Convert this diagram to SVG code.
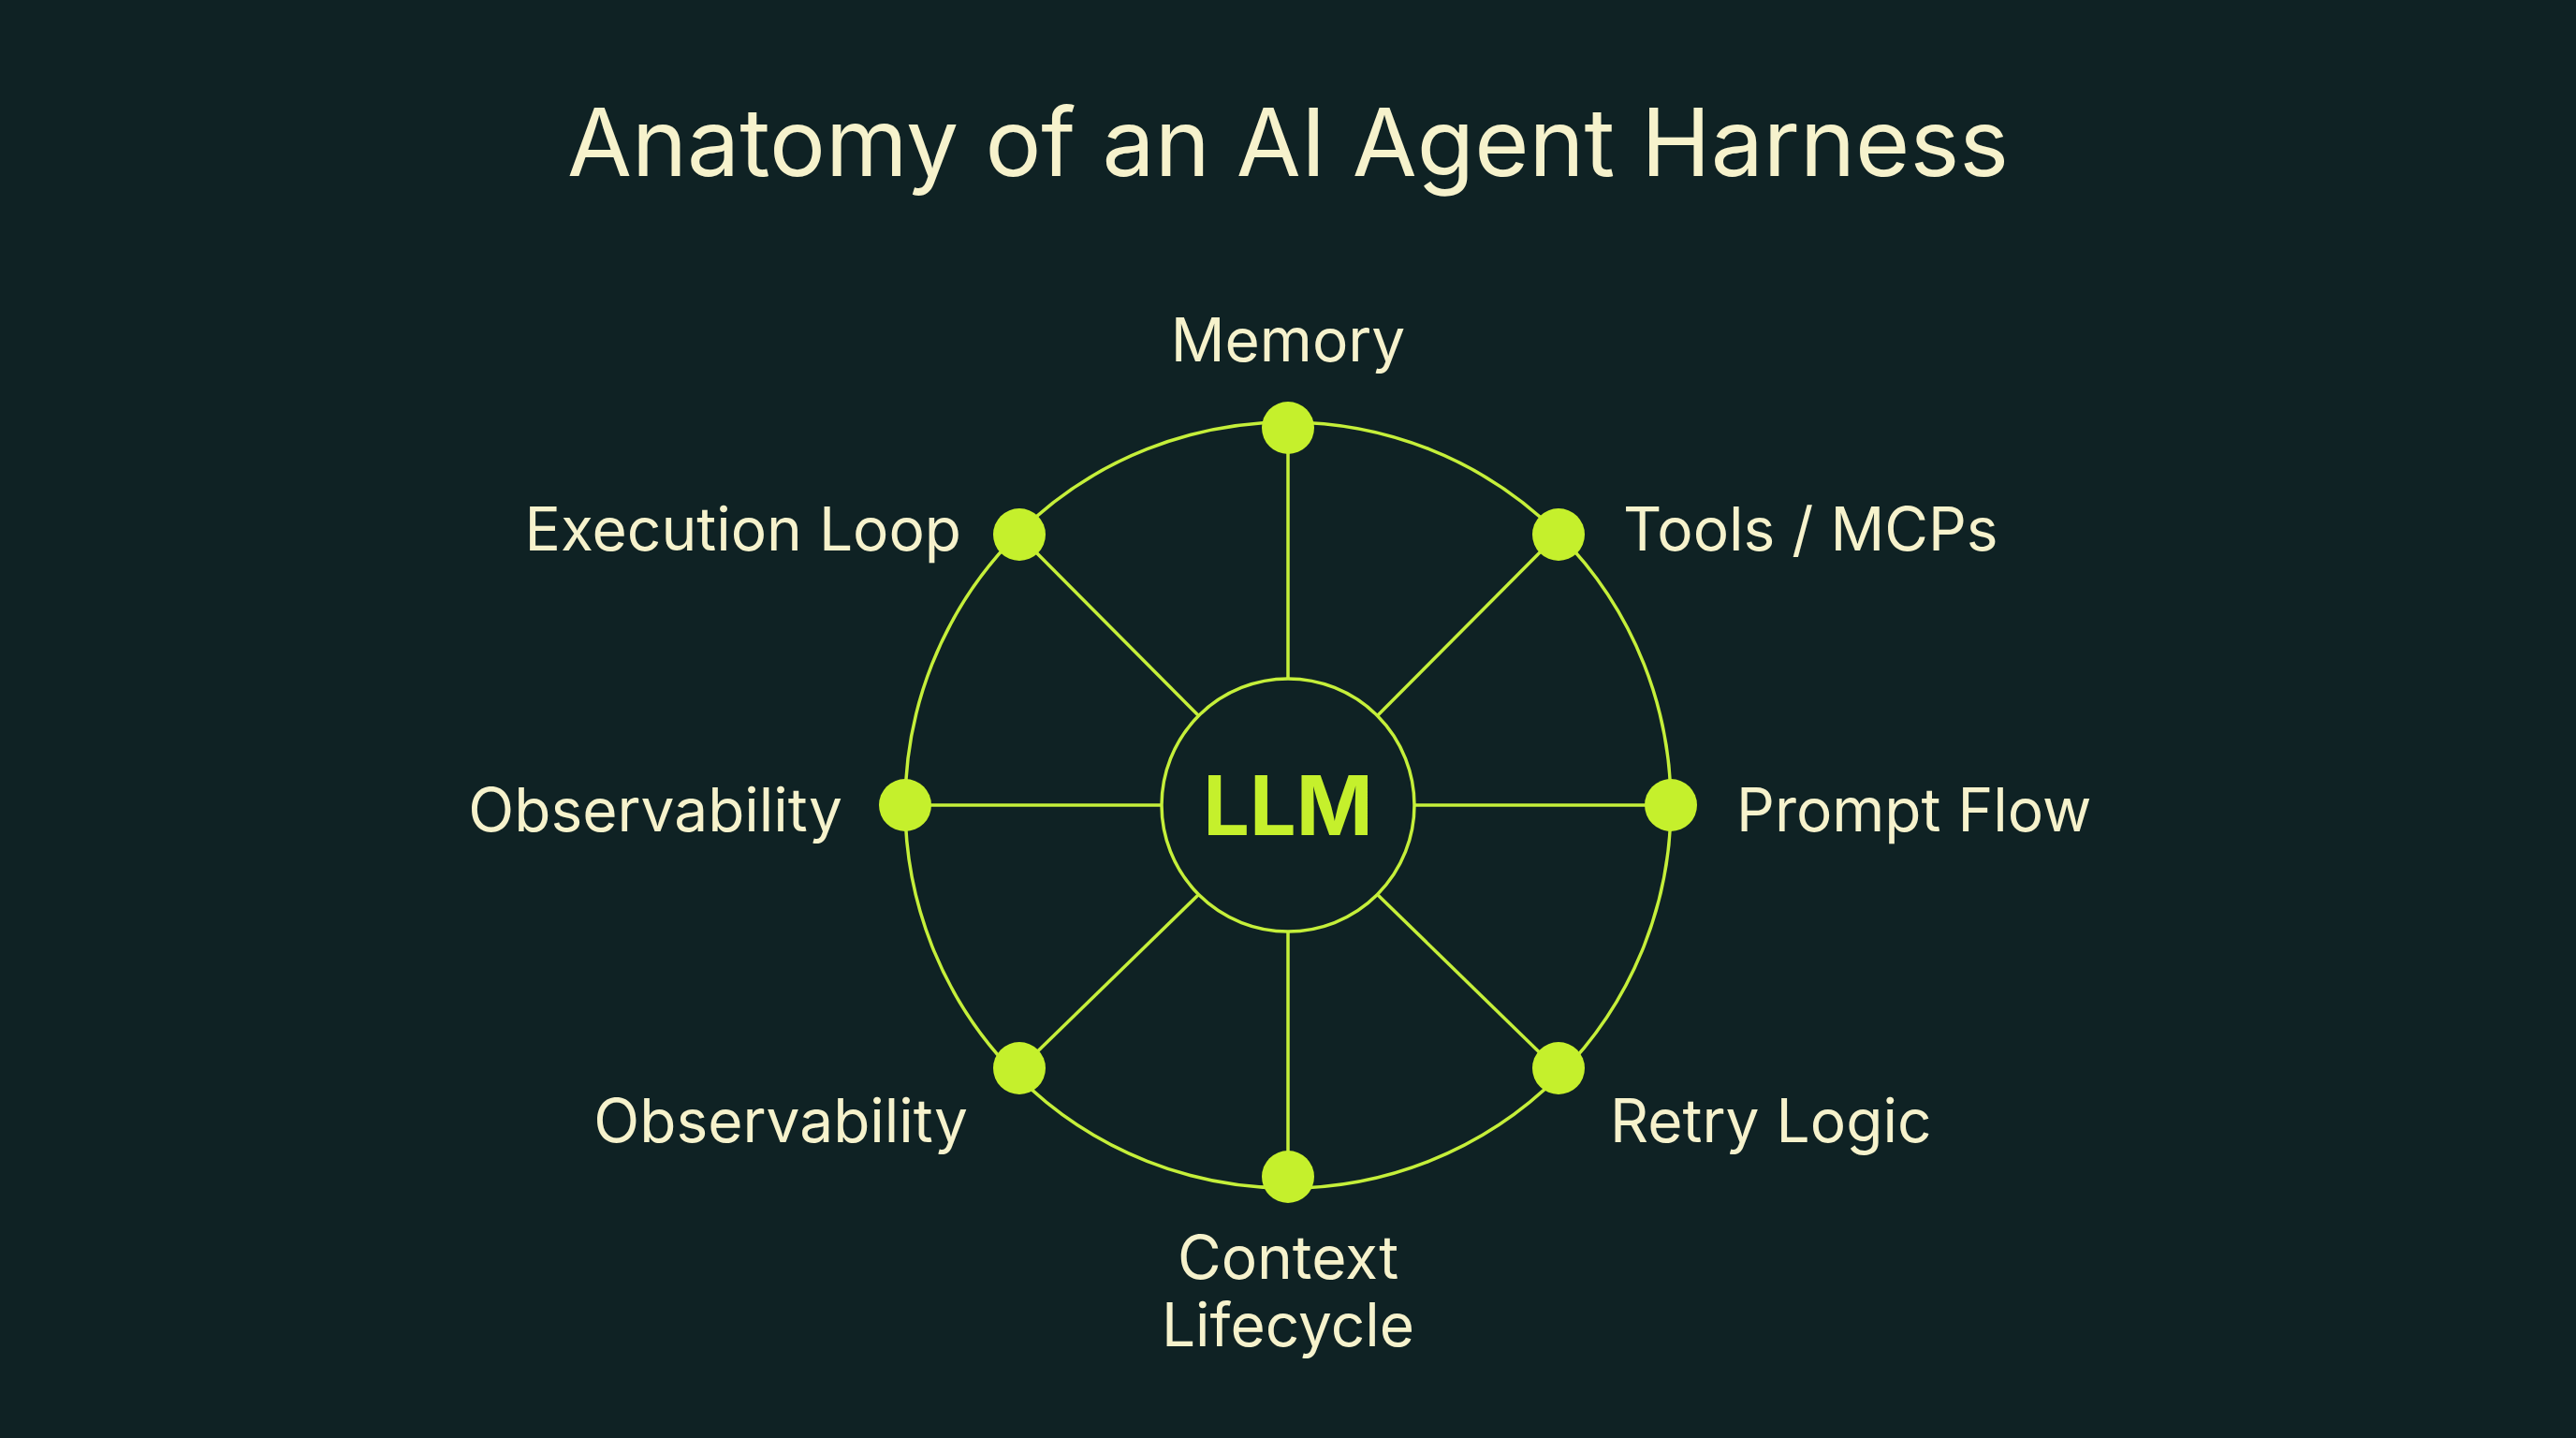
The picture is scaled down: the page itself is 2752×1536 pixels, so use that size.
<svg xmlns="http://www.w3.org/2000/svg" width="2752" height="1536" viewBox="0 0 2752 1536">
<style>
.ln{stroke:#c5ef3a;stroke-width:3.5;fill:none}
.dot{fill:#c5f02c}
.lb{font-family:Inter,"Liberation Sans",sans-serif;font-size:64px;fill:#f6f2cc}
</style>
<rect width="2752" height="1536" fill="#0f2224"/>
<text x="1376" y="188" text-anchor="middle" font-family="Inter,'Liberation Sans',sans-serif" font-size="100" fill="#f6f2cc">Anatomy of an AI Agent Harness</text>
<g id="connectors">
<circle class="ln" cx="1376" cy="860" r="409"/>
<line class="ln" x1="1376" y1="725" x2="1376" y2="457"/>
<line class="ln" x1="1376" y1="995" x2="1376" y2="1257"/>
<line class="ln" x1="1241" y1="860" x2="967" y2="860"/>
<line class="ln" x1="1511" y1="860" x2="1785" y2="860"/>
<line class="ln" x1="1281" y1="765" x2="1089" y2="572"/>
<line class="ln" x1="1471" y1="765" x2="1663" y2="572"/>
<line class="ln" x1="1281" y1="955" x2="1089" y2="1142"/>
<line class="ln" x1="1471" y1="955" x2="1663" y2="1142"/>
</g>
<g id="llm"><circle class="ln" cx="1376" cy="860" r="135"/><text x="1376" y="892" text-anchor="middle" font-family="Inter,'Liberation Sans',sans-serif" font-weight="bold" font-size="88" fill="#c5f02c">LLM</text></g>
<g id="memory"><circle class="dot" cx="1376" cy="457" r="28"/><text class="lb" x="1376" y="386" text-anchor="middle">Memory</text></g>
<g id="tools"><circle class="dot" cx="1665" cy="571" r="28"/><text class="lb" x="1734" y="588">Tools / MCPs</text></g>
<g id="prompt"><circle class="dot" cx="1785" cy="860" r="28"/><text class="lb" x="1855" y="888">Prompt Flow</text></g>
<g id="retry"><circle class="dot" cx="1665" cy="1141" r="28"/><text class="lb" x="1720" y="1220">Retry Logic</text></g>
<g id="context"><circle class="dot" cx="1376" cy="1257" r="28"/><text class="lb" x="1376" y="1366" text-anchor="middle" font-size="62">Context</text><text class="lb" x="1376" y="1438" text-anchor="middle" font-size="62">Lifecycle</text></g>
<g id="obs2"><circle class="dot" cx="1089" cy="1141" r="28"/><text class="lb" x="1034" y="1220" text-anchor="end">Observability</text></g>
<g id="obs1"><circle class="dot" cx="967" cy="860" r="28"/><text class="lb" x="900" y="888" text-anchor="end">Observability</text></g>
<g id="exec"><circle class="dot" cx="1089" cy="571" r="28"/><text class="lb" x="1027" y="588" text-anchor="end">Execution Loop</text></g>
</svg>
